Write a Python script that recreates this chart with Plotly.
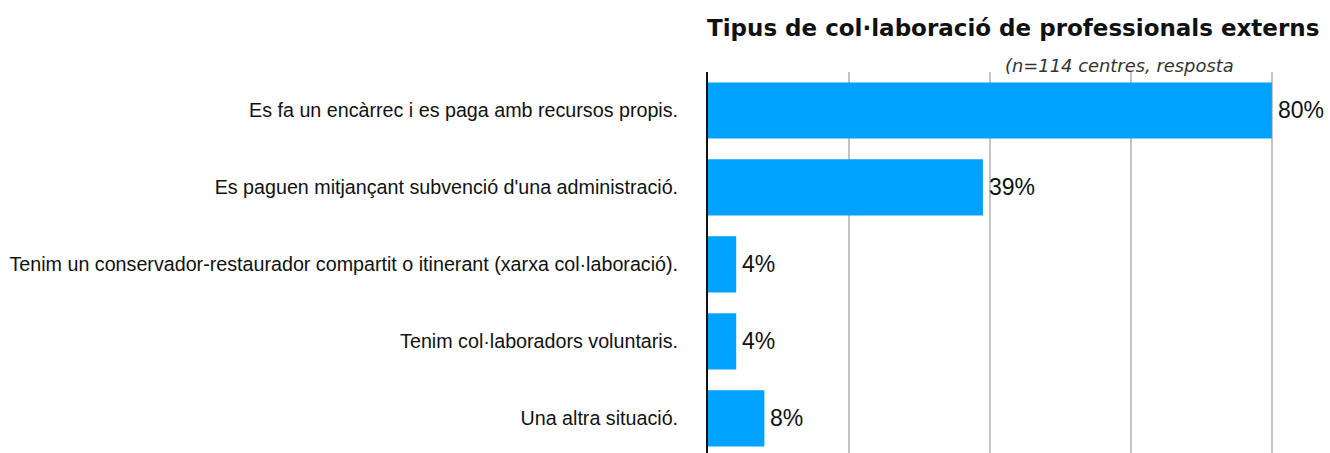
import plotly.graph_objects as go

# Survey categories and shares (%)
categories = [
    "Es fa un encàrrec i es paga amb recursos propis.",
    "Es paguen mitjançant subvenció d'una administració.",
    "Tenim un conservador-restaurador compartit o itinerant (xarxa col·laboració).",
    "Tenim col·laboradors voluntaris.",
    "Una altra situació.",
]
values = [80, 39, 4, 4, 8]
value_labels = ["80%", "39%", "4%", "4%", "8%"]

title_text = "Tipus de col·laboració de professionals externs"
subtitle_text = "(n=114 centres, resposta"

FONT = "Liberation Sans, Arial, Helvetica, sans-serif"
WIDE_FONT = "DejaVu Sans, Verdana, sans-serif"

fig = go.Figure(
    go.Bar(
        x=values,
        y=categories,
        orientation="h",
        marker=dict(color="#00A2FF", line=dict(width=0)),
        width=0.73,
        hoverinfo="x+y",
    )
)

# value labels just right of each bar end
annotations = [
    dict(
        x=v, y=c, xref="x", yref="y",
        text=t, showarrow=False,
        xanchor="left", yanchor="middle", xshift=4,
        font=dict(size=23, color="#111111", family=FONT),
    )
    for v, c, t in zip(values, categories, value_labels)
]

annotations += [
    dict(
        text="<b>" + title_text + "</b>",
        xref="paper", yref="paper",
        x=0, y=1, xanchor="left", yanchor="bottom",
        xshift=-3, yshift=29,
        showarrow=False,
        font=dict(size=23, color="#111111", family=WIDE_FONT),
    ),
    dict(
        text="<i>" + subtitle_text + "</i>",
        xref="x", yref="paper",
        x=41.8, y=1, xanchor="left", yanchor="bottom",
        yshift=-6,
        showarrow=False,
        font=dict(size=17.9, color="#333333", family=WIDE_FONT),
    ),
]

fig.update_layout(
    width=1330,
    height=453,
    margin=dict(l=708, r=44, t=72, b=0),
    plot_bgcolor="white",
    paper_bgcolor="white",
    font=dict(family=FONT, color="#111111"),
    showlegend=False,
    xaxis=dict(
        range=[0, 82],
        tickvals=[20, 40, 60, 80],
        showticklabels=False,
        showgrid=True,
        gridcolor="#c4c4c4",
        gridwidth=2,
        zeroline=False,
        showline=False,
        fixedrange=True,
    ),
    yaxis=dict(
        range=[4.45, -0.5],
        showgrid=False,
        showline=True,
        linecolor="#111111",
        linewidth=2,
        ticks="",
        ticklabelstandoff=24,
        tickfont=dict(size=19.7, color="#111111", family=FONT),
        zeroline=False,
    ),
    annotations=annotations,
)

fig.write_html("out.html")
